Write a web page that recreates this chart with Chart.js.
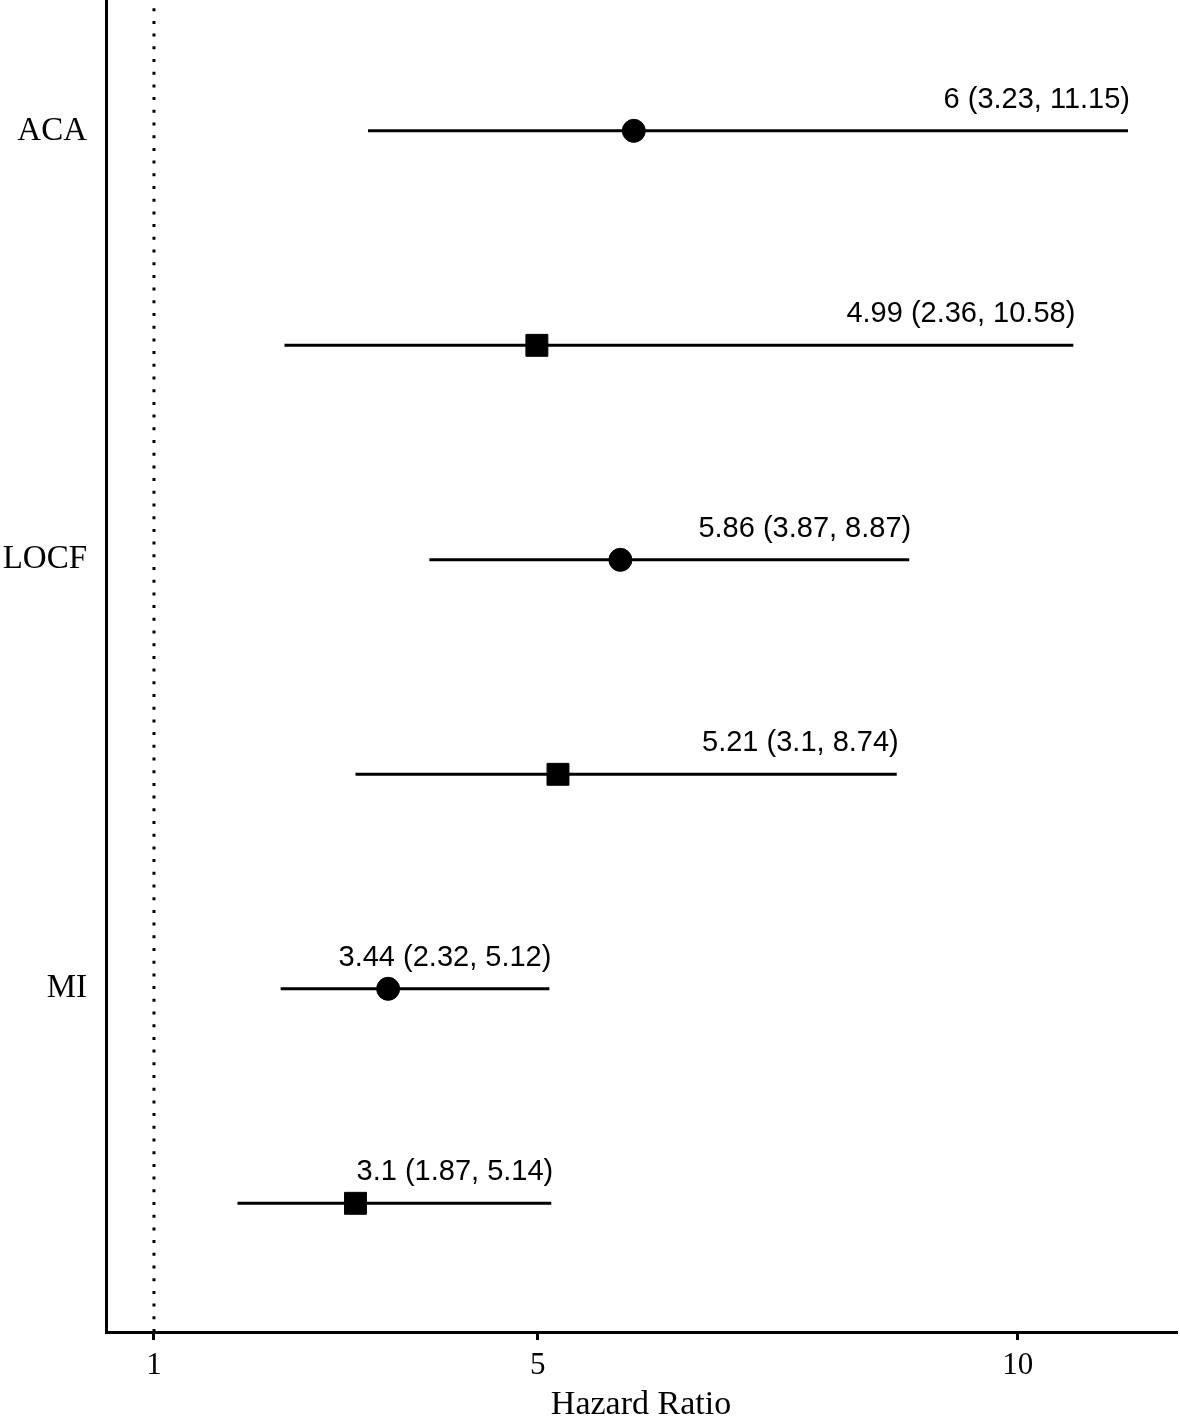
<!DOCTYPE html>
<html>
<head>
<meta charset="utf-8">
<script src="https://cdn.jsdelivr.net/npm/chart.js@4.4.0/dist/chart.umd.min.js"></script>
<style>
  body { margin: 0; background: #fff; }
  canvas { display: block; }
</style>
</head>
<body>
<canvas id="chart" width="1180" height="1420"></canvas>
<script>
// forest plot data, top row first
const methods = ['ACA', 'LOCF', 'MI'];
const methodRows = [6, 4, 2];
const rows = [6, 5, 4, 3, 2, 1];
const hazardRatio = [6, 4.99, 5.86, 5.21, 3.44, 3.1];
const lowerCI = [3.23, 2.36, 3.87, 3.1, 2.32, 1.87];
const upperCI = [11.15, 10.58, 8.87, 8.74, 5.12, 5.14];
const markers = ['circle', 'rect', 'circle', 'rect', 'circle', 'rect'];
const xTicks = [1, 5, 10];
const refValue = 1;

const serif = '"Liberation Serif", "Times New Roman", serif';
const sans = '"Liberation Sans", Arial, sans-serif';

// text label above each interval, right aligned to the upper limit
const hrLabels = {
  id: 'hrLabels',
  afterDatasetsDraw(chart) {
    const { ctx, scales: { x, y } } = chart;
    ctx.save();
    ctx.font = '29px ' + sans;
    ctx.fillStyle = '#000';
    ctx.textAlign = 'right';
    ctx.textBaseline = 'alphabetic';
    rows.forEach((r, i) => {
      const txt = `${hazardRatio[i]} (${lowerCI[i]}, ${upperCI[i]})`;
      ctx.fillText(txt, x.getPixelForValue(upperCI[i]) + 2, y.getPixelForValue(r) - 23);
    });
    ctx.restore();
  }
};

// no extra room for edge labels, keep the panel at fixed pixels
const noPad = (scale) => {
  scale.paddingTop = 0;
  scale.paddingBottom = 0;
  scale.paddingLeft = 0;
  scale.paddingRight = 0;
};

const ciLines = rows.map((r, i) => ({
  type: 'line',
  data: [{ x: lowerCI[i], y: r }, { x: upperCI[i], y: r }],
  borderColor: '#000',
  borderWidth: 3,
  pointRadius: 0,
  order: 1
}));

const ctx = document.getElementById('chart').getContext('2d');
new Chart(ctx, {
  type: 'scatter',
  data: {
    datasets: [
      {
        data: rows.map((r, i) => ({ x: hazardRatio[i], y: r })),
        pointStyle: markers,
        pointRadius: markers.map(m => (m === 'rect' ? 15.5 : 11.5)),
        backgroundColor: '#000',
        borderColor: '#000',
        borderWidth: 1,
        order: 0
      },
      ...ciLines,
      {
        type: 'line',
        data: [{ x: refValue, y: 0.4 }, { x: refValue, y: 6.61 }],
        borderColor: '#000',
        borderWidth: 3,
        borderDash: [3, 9.7],
        pointRadius: 0,
        order: 2
      }
    ]
  },
  options: {
    responsive: false,
    animation: false,
    layout: { autoPadding: false, padding: { left: 0, right: 4, top: 0, bottom: 0 } },
    plugins: { legend: { display: false }, tooltip: { enabled: false } },
    scales: {
      x: {
        type: 'linear',
        min: 0.5,
        max: 11.65,
        afterBuildTicks: (scale) => { scale.ticks = xTicks.map(v => ({ value: v })); },
        afterFit: (scale) => { scale.height = 88; noPad(scale); },
        grid: { drawOnChartArea: false, drawTicks: true, tickLength: 8, color: '#000', lineWidth: 3 },
        border: { display: true, color: '#000', width: 3 },
        ticks: { color: '#000', padding: 7, font: { family: serif, size: 31 }, callback: v => v },
        title: {
          display: true,
          text: 'Hazard Ratio',
          color: '#000',
          padding: 0,
          font: { family: serif, size: 34, lineHeight: 0.85 }
        }
      },
      y: {
        type: 'linear',
        min: 0.4,
        max: 6.61,
        afterBuildTicks: (scale) => { scale.ticks = methodRows.map(v => ({ value: v })); },
        afterFit: (scale) => { scale.width = 106; noPad(scale); },
        grid: { display: false, drawTicks: false },
        border: { display: true, color: '#000', width: 3 },
        ticks: {
          color: '#000',
          padding: 19,
          font: { family: serif, size: 33 },
          callback: v => methods[methodRows.indexOf(v)]
        }
      }
    }
  },
  plugins: [hrLabels]
});
</script>
</body>
</html>
